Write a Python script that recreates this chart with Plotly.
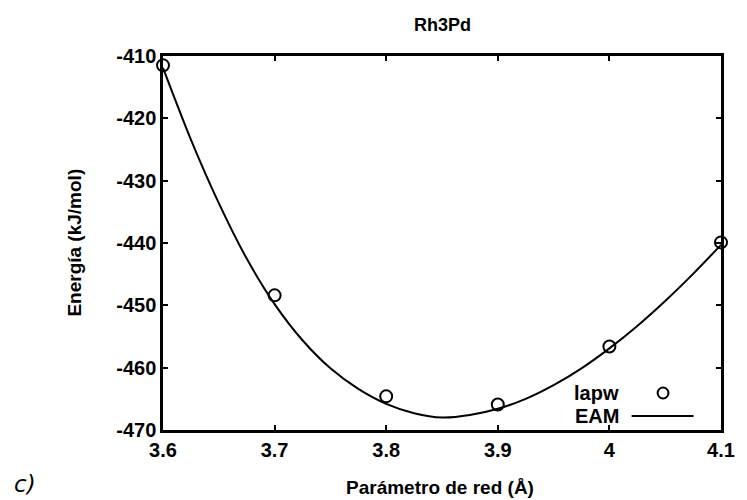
import plotly.graph_objects as go

# Data
lapw_x = [3.6, 3.7, 3.8, 3.9, 4.0, 4.1]
lapw_y = [-411.5, -448.4, -464.6, -465.9, -456.6, -439.9]

eam_x = [3.600, 3.625, 3.650, 3.675, 3.700, 3.725, 3.750, 3.775, 3.800, 3.825,
         3.850, 3.875, 3.900, 3.925, 3.950, 3.975, 4.000, 4.025, 4.050, 4.075, 4.100]
eam_y = [-411.9, -423.4, -433.6, -442.5, -449.8, -455.6, -460.1, -463.4, -465.8, -467.3,
         -468.0, -467.6, -466.6, -465.0, -462.8, -460.1, -456.9, -453.3, -449.3, -444.95, -440.3]

x_ticks = [3.6, 3.7, 3.8, 3.9, 4.0, 4.1]
x_ticktext = ["3.6", "3.7", "3.8", "3.9", "4", "4.1"]
y_ticks = [-470, -460, -450, -440, -430, -420, -410]
y_ticktext = ["-470", "-460", "-450", "-440", "-430", "-420", "-410"]

FONT = "Liberation Sans"

fig = go.Figure()
fig.add_trace(go.Scatter(x=eam_x, y=eam_y, mode="lines", name="EAM",
                         line=dict(color="black", width=2, shape="spline", smoothing=0.8),
                         showlegend=False))
fig.add_trace(go.Scatter(x=lapw_x, y=lapw_y, mode="markers", name="lapw",
                         marker=dict(symbol="circle-open", size=12, color="black",
                                     line=dict(width=2, color="black")),
                         showlegend=False, cliponaxis=False))

axis_common = dict(showgrid=False, zeroline=False, showline=True, linecolor="black",
                   linewidth=2.5, mirror="ticks", ticks="inside", ticklen=5,
                   tickwidth=2, tickcolor="black",
                   tickfont=dict(family=FONT, size=20, color="black", weight="bold"))

fig.update_xaxes(range=[3.6, 4.1], tickvals=x_ticks, ticktext=x_ticktext, **axis_common)
fig.update_yaxes(range=[-470, -410], tickvals=y_ticks, ticktext=y_ticktext, **axis_common)

bold = dict(family=FONT, size=19, color="black", weight="bold")
annotations = [
    dict(text="Rh3Pd", xref="paper", yref="paper", x=0.5, y=(430 - 25) / 374,
         xanchor="center", yanchor="middle", showarrow=False,
         font=dict(family=FONT, size=18, color="black", weight="bold")),
    dict(text="Parámetro de red (Å)", xref="paper", yref="paper",
         x=(445 - 163) / 568, y=(430 - 487) / 374, xanchor="center", yanchor="middle",
         showarrow=False, font=bold),
    dict(text="Energía (kJ/mol)", xref="paper", yref="paper", textangle=-90,
         x=(72 - 163) / 568, y=(430 - 243) / 374, xanchor="center", yanchor="middle",
         showarrow=False, font=bold),
    dict(text="<i>c)</i>", xref="paper", yref="paper",
         x=(9 - 163) / 568, y=(430 - 484) / 374, xanchor="left", yanchor="middle",
         showarrow=False, font=dict(family="DejaVu Sans", size=23, color="black")),
    dict(text="lapw", xref="paper", yref="paper",
         x=(629 - 163) / 568, y=(430 - 393) / 374, xanchor="right", yanchor="middle",
         showarrow=False, font=dict(family=FONT, size=20, color="black", weight="bold")),
    dict(text="EAM", xref="paper", yref="paper",
         x=(629 - 163) / 568, y=(430 - 416) / 374, xanchor="right", yanchor="middle",
         showarrow=False, font=dict(family=FONT, size=20, color="black", weight="bold")),
]

# legend samples (decoration, in paper coordinates)
cx, cy = (672 - 163) / 568, (430 - 393) / 374
rx, ry = 5.5 / 568, 5.5 / 374
shapes = [
    dict(type="circle", xref="paper", yref="paper", x0=cx - rx, x1=cx + rx,
         y0=cy - ry, y1=cy + ry, line=dict(color="black", width=2)),
    dict(type="line", xref="paper", yref="paper", x0=(640 - 163) / 568, x1=(703 - 163) / 568,
         y0=(430 - 416) / 374, y1=(430 - 416) / 374, line=dict(color="black", width=2)),
]

fig.update_layout(
    width=747, height=500,
    margin=dict(l=163, r=16, t=56, b=70),
    paper_bgcolor="white", plot_bgcolor="white",
    showlegend=False,
    annotations=annotations, shapes=shapes,
)

fig.write_html("out.html")
